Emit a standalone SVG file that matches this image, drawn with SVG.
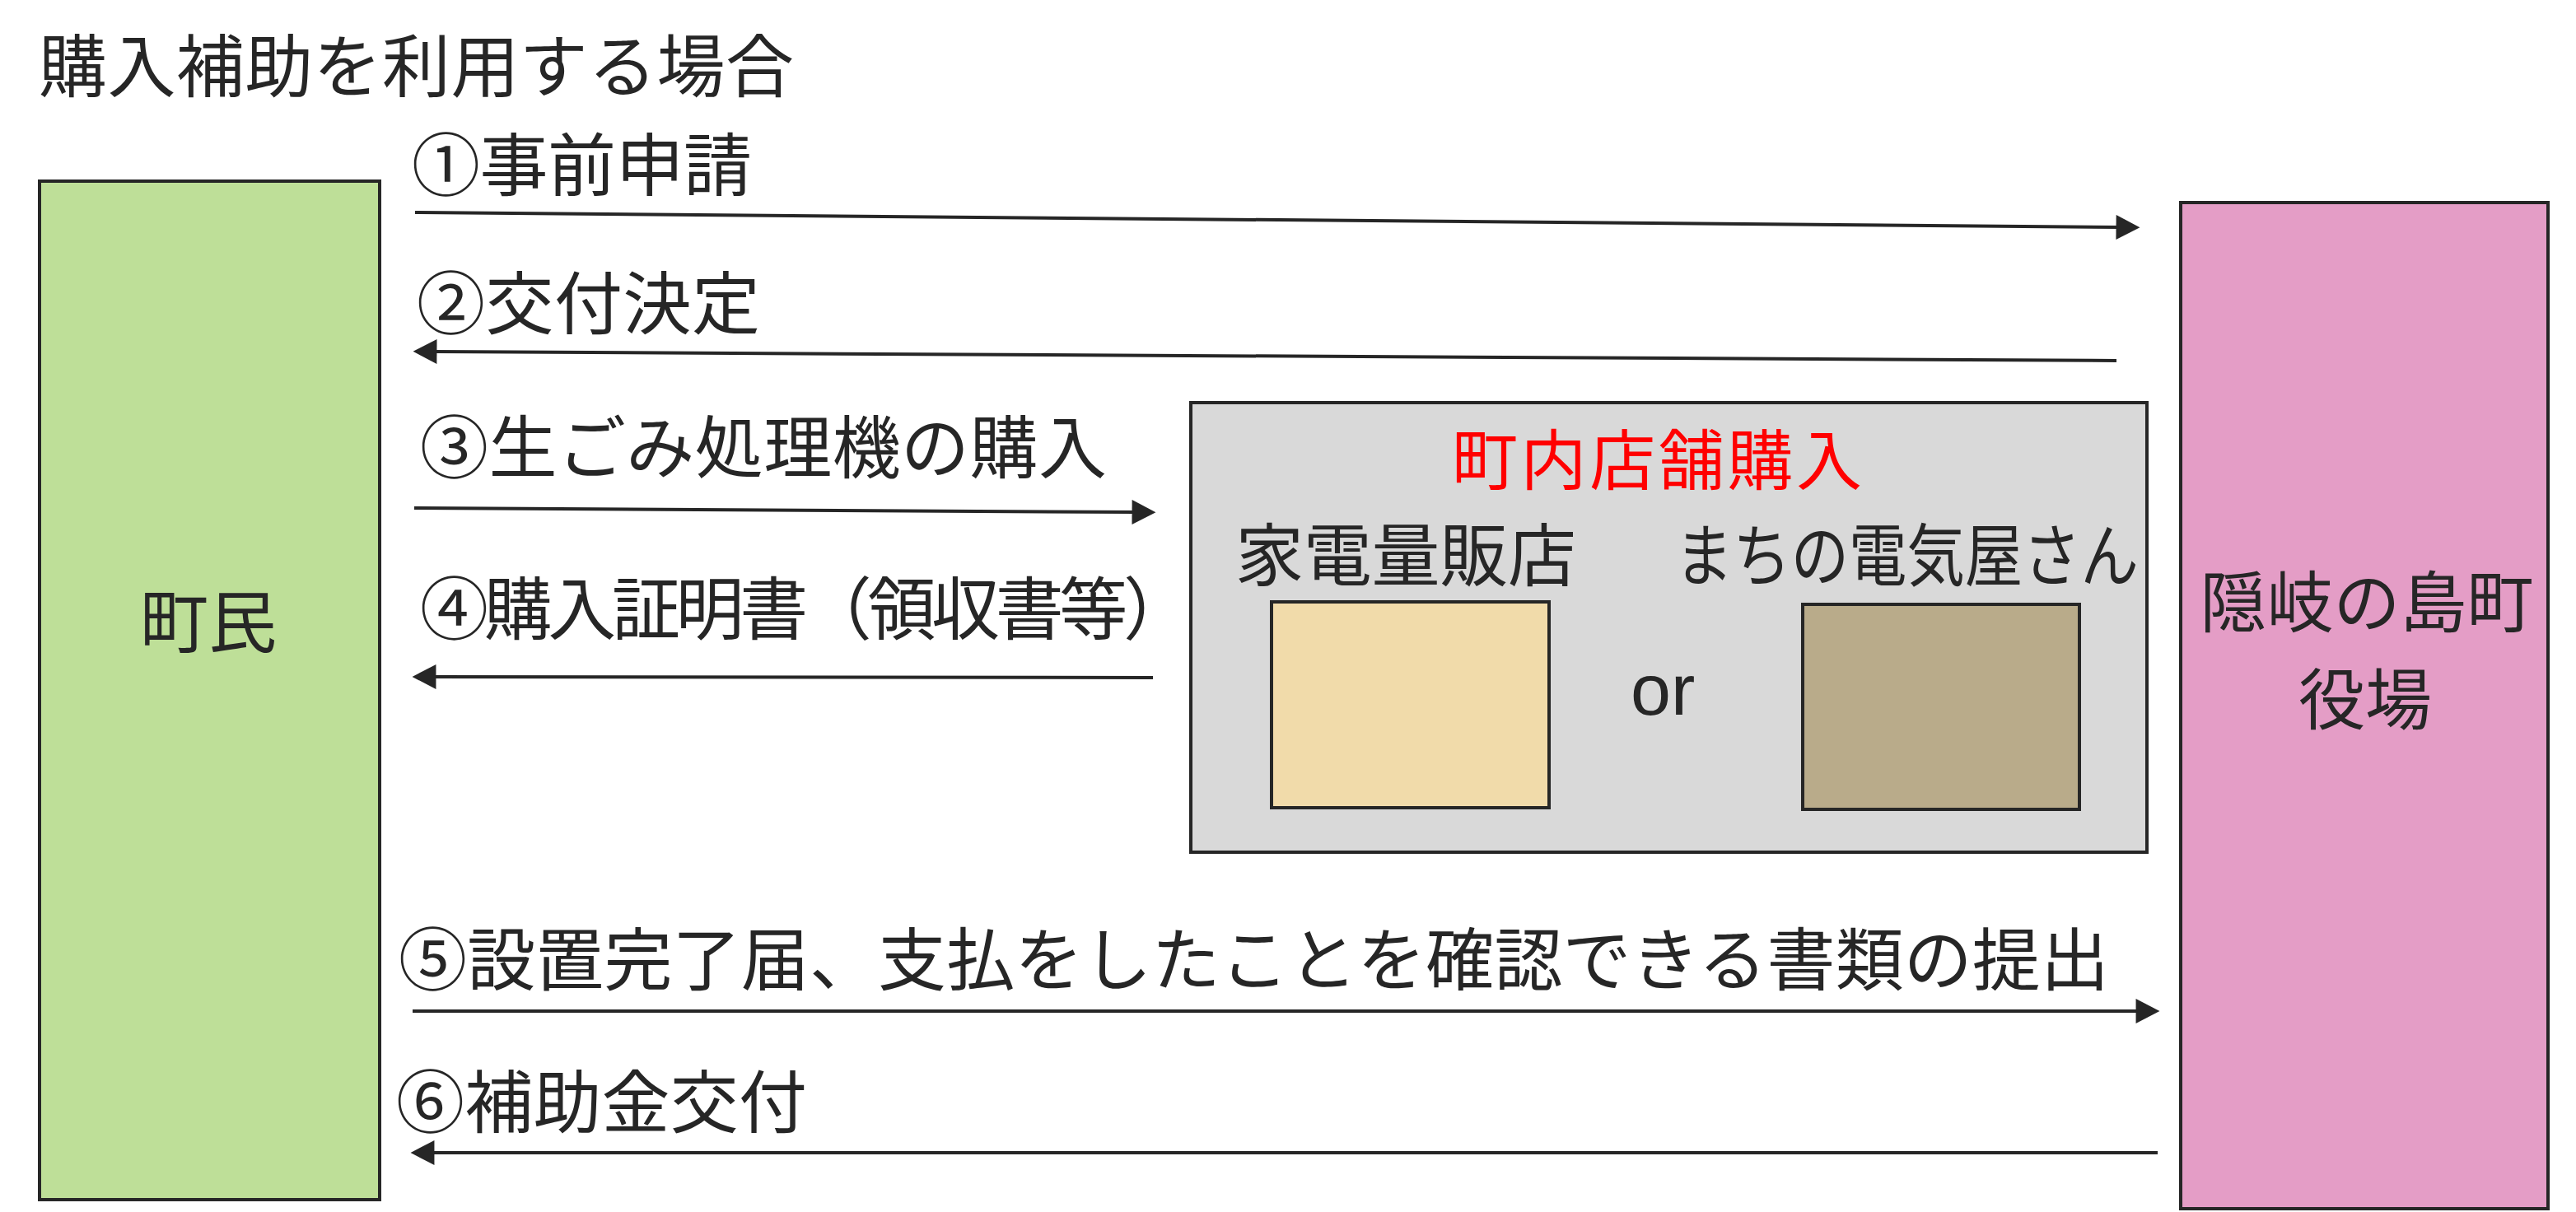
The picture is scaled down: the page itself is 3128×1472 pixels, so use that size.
<svg xmlns="http://www.w3.org/2000/svg" width="3128" height="1472" viewBox="0 0 3128 1472">
<style>
.box{stroke:#262626;stroke-width:4}
.t{font-family:"Noto Sans CJK JP","Noto Sans",sans-serif;font-size:83px;fill:#262626}
.c{text-anchor:middle}
.red{fill:#FF0000;font-size:80px}
.line{stroke:#262626;stroke-width:4;fill:none;marker-end:url(#arr)}
</style>
<defs>
<marker id="arr" markerUnits="userSpaceOnUse" markerWidth="30" markerHeight="30" refX="4" refY="13.5" orient="auto" viewBox="0 0 26 27">
<path d="M0,0 L26,13.5 L0,27 Z" fill="#262626"/>
</marker>
</defs>
<rect width="3128" height="1472" fill="#FFFFFF"/>
<text class="t" x="47" y="111" textLength="917">購入補助を利用する場合</text>
<g id="chomin">
<rect class="box" x="48" y="220" width="413" height="1237" fill="#BEDF98"/>
<text class="t c" x="253" y="786">町民</text>
</g>
<g id="yakuba">
<rect class="box" x="2648" y="246" width="446" height="1222" fill="#E49DC6"/>
<text class="t c" x="2874" y="761" style="font-size:81px">隠岐の島町</text>
<text class="t c" x="2872" y="879" style="font-size:81px">役場</text>
</g>
<g id="shop">
<rect class="box" x="1446" y="489" width="1161" height="546" fill="#D9D9D9"/>
<text class="t red" x="1763" y="588" textLength="498">町内店舗購入</text>
<text class="t" x="1500" y="705" textLength="414">家電量販店</text>
<text class="t" x="2034" y="705" textLength="563" lengthAdjust="spacingAndGlyphs">まちの電気屋さん</text>
<text x="1980" y="868" style="font-family:'Liberation Sans',Arial,sans-serif;font-size:88px;fill:#262626">or</text>
</g>
<g id="kaden">
<rect class="box" x="1544" y="731" width="337" height="250" fill="#F1DBAA"/>
</g>
<g id="machi">
<rect class="box" x="2189" y="734" width="336" height="249" fill="#B9AB8A"/>
</g>
<g id="connectors">
<line class="line" x1="504" y1="258" x2="2574" y2="276"/>
<line class="line" x1="2570" y1="438" x2="526" y2="427"/>
<line class="line" x1="503" y1="617" x2="1379" y2="622"/>
<line class="line" x1="1400" y1="823" x2="525" y2="822"/>
<line class="line" x1="501" y1="1228" x2="2598" y2="1228"/>
<line class="line" x1="2620" y1="1400" x2="523" y2="1400"/>
</g>
<g id="labels">
<text class="t" x="500" y="231" textLength="413">①事前申請</text>
<text class="t" x="506" y="399" textLength="417">②交付決定</text>
<text class="t" x="510" y="574" textLength="834">③生ごみ処理機の購入</text>
<text class="t" x="510" y="770" textLength="937">④購入証明書（領収書等）</text>
<text class="t" x="484" y="1196" textLength="2077">⑤設置完了届、支払をしたことを確認できる書類の提出</text>
<text class="t" x="481" y="1369" textLength="499">⑥補助金交付</text>
</g>
</svg>
